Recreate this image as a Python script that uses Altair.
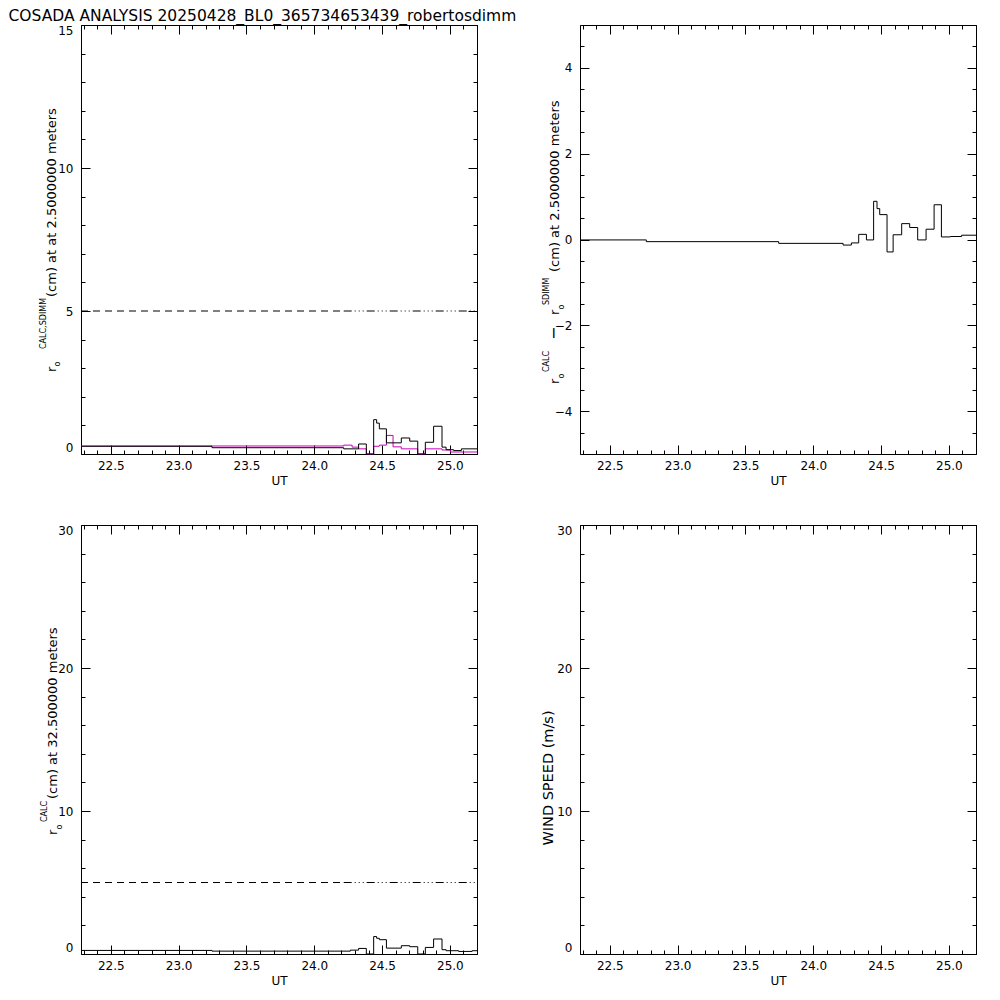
import altair as alt
import pandas as pd

FONT = "DejaVu Sans"
TITLE = "COSADA ANALYSIS 20250428_BL0_365734653439_robertosdimm"

# ---------------- axes ----------------
X_DOMAIN = [22.28, 25.2]
X_MAJOR = [22.5, 23.0, 23.5, 24.0, 24.5, 25.0]
X_MINOR = [round(22.3 + 0.1 * i, 1) for i in range(30)]

TL_Y = [0, 15]
TL_MAJOR = [0, 5, 10, 15]
TL_MINOR = list(range(0, 16))

TR_Y = [-5, 5]
TR_MAJOR = [-4, -2, 0, 2, 4]
TR_MINOR = [-5 + 0.5 * i for i in range(21)]

B_Y = [0, 30]
B_MAJOR = [0, 10, 20, 30]
B_MINOR = list(range(0, 31, 2))

# ---------------- data ----------------
# top-left: r0 CALC (black) and r0 SDIMM (magenta) at 2.5 m
tl_black_ut = [22.28, 23.246, 24.217, 24.327, 24.384, 24.438, 24.46, 24.48, 24.532,
               24.642, 24.704, 24.763, 24.819, 24.88, 24.942, 24.972, 25.028, 25.085, 25.2]
tl_black_val = [0.27, 0.22, 0.18, 0.35, 0.0, 1.2, 1.08, 0.88, 0.39,
                0.56, 0.45, 0.0, 0.41, 0.97, 0.24, 0.15, 0.12, 0.18, 0.18]

tl_mag_ut = [22.28, 24.217, 24.279, 24.327, 24.384, 24.438, 24.48, 24.532, 24.581,
             24.642, 24.763, 24.819, 24.942, 25.004, 25.2]
tl_mag_val = [0.28, 0.31, 0.24, 0.18, 0.0, 0.27, 0.31, 0.65, 0.25,
              0.18, 0.0, 0.18, 0.14, 0.07, 0.07]

# top-right: difference CALC - SDIMM
tr_ut = [22.28, 22.769, 23.745, 24.22, 24.281, 24.335, 24.392, 24.445, 24.47, 24.49,
         24.544, 24.589, 24.652, 24.711, 24.77, 24.832, 24.891, 24.945, 25.011, 25.094, 25.2]
tr_val = [-0.01, -0.05, -0.09, -0.13, -0.08, 0.12, -0.01, 0.89, 0.72, 0.58,
          -0.29, 0.11, 0.37, 0.28, -0.01, 0.24, 0.81, 0.06, 0.07, 0.10, 0.10]

# bottom-left: r0 CALC at 32.5 m
bl_ut = [22.28, 23.246, 24.266, 24.327, 24.384, 24.438, 24.46, 24.48, 24.532, 24.642,
         24.704, 24.763, 24.819, 24.88, 24.942, 24.972, 25.065, 25.164, 25.2]
bl_val = [0.25, 0.2, 0.27, 0.39, 0.0, 1.22, 1.1, 1.0, 0.41, 0.58,
          0.51, 0.0, 0.46, 1.05, 0.3, 0.23, 0.18, 0.23, 0.23]

REF_LEVEL = 5.0
REF_SPLIT = 24.217

W, H = 396, 429
MAGENTA = "#CC00BB"


def xscale():
    return alt.Scale(domain=X_DOMAIN, nice=False, zero=False)


def yscale(d):
    return alt.Scale(domain=d, nice=False, zero=False)


def frame_layers(y_domain, y_major, y_minor):
    dummy = pd.DataFrame({"ut": X_DOMAIN, "val": y_domain})
    edge_shift = {
        "condition": [
            {"test": f"datum.value == {y_domain[0]}", "value": -7},
            {"test": f"datum.value == {y_domain[1]}", "value": 5},
        ],
        "value": 0,
    }
    layers = [
        alt.Chart(dummy).mark_point(opacity=0).encode(
            x=alt.X("ut:Q", scale=xscale(), axis=alt.Axis(
                orient="bottom", values=X_MAJOR, format=".1f", ticks=False, tickSize=0,
                domain=False, grid=False, labelPadding=6, labelFontSize=12, labelFlush=False,
                title="UT", titleFontSize=12, titlePadding=4)),
            y=alt.Y("val:Q", scale=yscale(y_domain), axis=alt.Axis(
                orient="left", values=y_major, ticks=False, tickSize=0, domain=False,
                grid=False, labelPadding=8, labelFontSize=12, title=None,
                labelOffset=edge_shift)),
        )
    ]
    for xo, yo, xv, yv, size in [
        ("bottom", "left", X_MAJOR, y_major, 9),
        ("bottom", "left", X_MINOR, y_minor, 4),
        ("top", "right", X_MAJOR, y_major, 9),
        ("top", "right", X_MINOR, y_minor, 4),
    ]:
        layers.append(
            alt.Chart(dummy).mark_point(opacity=0).encode(
                x=alt.X("ut:Q", scale=xscale(), axis=alt.Axis(
                    orient=xo, values=xv, tickSize=size, offset=-size, labels=False,
                    domain=False, grid=False, title=None, tickColor="black", tickWidth=1)),
                y=alt.Y("val:Q", scale=yscale(y_domain), axis=alt.Axis(
                    orient=yo, values=yv, tickSize=size, offset=-size, labels=False,
                    domain=False, grid=False, title=None, tickColor="black", tickWidth=1)),
            )
        )
    return layers


def step_line(ut, val, color, y_domain):
    df = pd.DataFrame({"ut": ut, "val": val})
    return alt.Chart(df).mark_line(interpolate="step-after", color=color, strokeWidth=1).encode(
        x=alt.X("ut:Q", scale=xscale(), axis=None),
        y=alt.Y("val:Q", scale=yscale(y_domain), axis=None),
    )


def ref_lines(y_domain):
    a = pd.DataFrame({"x0": [X_DOMAIN[0]], "x1": [REF_SPLIT], "y": [REF_LEVEL]})
    b = pd.DataFrame({"x0": [REF_SPLIT], "x1": [X_DOMAIN[1]], "y": [REF_LEVEL]})
    r1 = alt.Chart(a).mark_rule(color="black", strokeWidth=1, strokeDash=[7, 5]).encode(
        x=alt.X("x0:Q", scale=xscale(), axis=None), x2="x1:Q",
        y=alt.Y("y:Q", scale=yscale(y_domain), axis=None))
    r2 = alt.Chart(b).mark_rule(color="black", strokeWidth=1,
                                strokeDash=[8, 3, 1, 3, 1, 3, 1, 3]).encode(
        x=alt.X("x0:Q", scale=xscale(), axis=None), x2="x1:Q",
        y=alt.Y("y:Q", scale=yscale(y_domain), axis=None))
    return [r1, r2]


def vtext(text, x, y, size, align="left"):
    return alt.Chart(pd.DataFrame({"a": [0]})).mark_text(
        text=text, angle=270, align=align, baseline="alphabetic", fontSize=size,
        font=FONT, color="black").encode(x=alt.value(x), y=alt.value(y))


def panel(layers):
    return alt.layer(*layers).resolve_axis(x="independent", y="independent").properties(
        width=W, height=H)


# top-left
tl_layers = frame_layers(TL_Y, TL_MAJOR, TL_MINOR) + ref_lines(TL_Y) + [
    step_line(tl_mag_ut, tl_mag_val, MAGENTA, TL_Y),
    step_line(tl_black_ut, tl_black_val, "black", TL_Y),
    vtext("r", -25.5, 347, 13),
    vtext("o", -21, 341.5, 8),
    vtext("CALC,SDIMM", -35.5, 324, 8),
    vtext("(cm) at  at 2.5000000 meters", -25.5, 272, 13),
    alt.Chart(pd.DataFrame({"a": [0]})).mark_text(
        text=TITLE, align="left", baseline="top", fontSize=15.5, font=FONT, color="black"
    ).encode(x=alt.value(-72.5), y=alt.value(-16)),
]
tl = panel(tl_layers)

# top-right
tr_layers = frame_layers(TR_Y, TR_MAJOR, TR_MINOR) + [
    step_line(tr_ut, tr_val, "black", TR_Y),
    vtext("r", -21, 359, 13),
    vtext("o", -16.5, 353.5, 8),
    vtext("CALC", -31, 347, 8),
    vtext("\u2212", -21, 315, 16),
    vtext("r", -21, 290, 13),
    vtext("o", -16.5, 284.5, 8),
    vtext("SDIMM", -31, 280, 8),
    vtext("(cm) at 2.5000000 meters", -21, 247, 13),
]
tr = panel(tr_layers)

# bottom-left
bl_layers = frame_layers(B_Y, B_MAJOR, B_MINOR) + ref_lines(B_Y) + [
    step_line(bl_ut, bl_val, "black", B_Y),
    vtext("r", -24, 310, 13),
    vtext("o", -19.5, 304.5, 8),
    vtext("CALC", -34, 297, 8),
    vtext("(cm) at 32.500000 meters", -24, 274, 13),
]
bl = panel(bl_layers)

# bottom-right (wind speed, empty)
br_layers = frame_layers(B_Y, B_MAJOR, B_MINOR) + [
    vtext("WIND SPEED (m/s)", -27.5, 253, 14.5, align="center"),
]
br = panel(br_layers)

chart = alt.concat(tl, tr, bl, br, columns=2, spacing={"row": 71, "column": 103},
                   bounds="flush").properties(padding=0).configure_view(
    stroke="black", strokeWidth=1
).configure_axis(
    labelFont=FONT, titleFont=FONT, labelColor="black", titleColor="black",
    titleFontWeight="normal"
)

chart.save("out.html", embed_options={"renderer": "svg", "actions": False})
